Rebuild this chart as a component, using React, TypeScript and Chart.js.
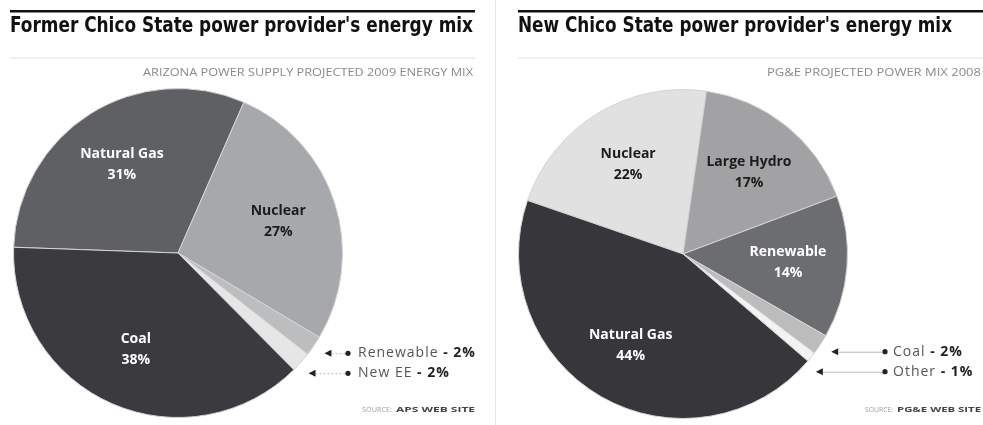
import React, { useEffect, useRef } from 'react';
import { Chart, registerables } from 'chart.js';

Chart.register(...registerables);

// ---- Data ----
const leftCategories = ['Natural Gas', 'Nuclear', 'Renewable', 'New EE', 'Coal'];
const leftValues = [31, 27, 2, 2, 38];

const rightCategories = ['Nuclear', 'Large Hydro', 'Renewable', 'Coal', 'Other', 'Natural Gas'];
const rightValues = [22, 17, 14, 2, 1, 44];

// ---- Styles ----
const leftColors = ['#5e6064', '#a6a8ab', '#bcbdbe', '#e6e6e6', '#3b3b3f'];
const leftLabelColors = ['#ffffff', '#1c1c1c', '#222', '#222', '#ffffff'];
const rightColors = ['#e1e1e1', '#a2a2a4', '#6b6d70', '#bcbcbc', '#f3f3f3', '#37373b'];
const rightLabelColors = ['#1c1c1c', '#1c1c1c', '#ffffff', '#222', '#222', '#ffffff'];

const pieLabelsPlugin = {
  id: 'pieLabels',
  afterDatasetsDraw(chart: any, _args: any, opts: any) {
    const ctx: any = chart.ctx;
    const meta = chart.getDatasetMeta(0);
    const data = chart.data.datasets[0].data as number[];
    const labels = chart.data.labels as string[];
    ctx.save();
    let lastY = -Infinity;
    meta.data.forEach((arc: any, i: number) => {
      const { startAngle, endAngle, outerRadius, x, y } = arc.getProps(
        ['startAngle', 'endAngle', 'outerRadius', 'x', 'y'],
        true
      );
      const mid = (startAngle + endAngle) / 2;
      const v = data[i];
      if (v >= opts.minInside) {
        const r = outerRadius * opts.labelRadius;
        const lx = x + Math.cos(mid) * r;
        const ly = y + Math.sin(mid) * r;
        ctx.fillStyle = opts.labelColors[i];
        ctx.font = 'bold 14px "Open Sans", sans-serif';
        ctx.textAlign = 'center';
        ctx.textBaseline = 'middle';
        ctx.fillText(labels[i], lx, ly - 10);
        ctx.fillText(v + '%', lx, ly + 11);
      } else {
        const tr = outerRadius + opts.arrowGap;
        let tx = x + Math.cos(mid) * tr;
        let ty = y + Math.sin(mid) * tr;
        if (ty < lastY + opts.minGap) {
          ty = lastY + opts.minGap;
          const dy = ty - y;
          tx = x + Math.sqrt(Math.max(tr * tr - dy * dy, 0));
        }
        lastY = ty;
        // arrow head
        ctx.fillStyle = '#222';
        ctx.beginPath();
        ctx.moveTo(tx, ty);
        ctx.lineTo(tx + 7, ty - 3.5);
        ctx.lineTo(tx + 7, ty + 3.5);
        ctx.closePath();
        ctx.fill();
        // leader line
        ctx.strokeStyle = '#b8b8b8';
        ctx.lineWidth = 1;
        ctx.setLineDash(opts.dashed ? [2, 2] : []);
        ctx.beginPath();
        ctx.moveTo(tx + 7, ty + 0.5);
        ctx.lineTo(opts.dotX, ty + 0.5);
        ctx.stroke();
        ctx.setLineDash([]);
        // dot
        ctx.beginPath();
        ctx.arc(opts.dotX, ty, 2.6, 0, Math.PI * 2);
        ctx.fill();
        // text
        ctx.textAlign = 'left';
        ctx.textBaseline = 'middle';
        ctx.letterSpacing = '1px';
        ctx.font = '14px "Open Sans", sans-serif';
        ctx.fillStyle = '#555';
        const name = labels[i] + ' ';
        ctx.fillText(name, opts.textX, ty);
        const w = ctx.measureText(name).width;
        ctx.font = 'bold 14px "Open Sans", sans-serif';
        ctx.fillStyle = '#222';
        ctx.fillText('- ' + v + '%', opts.textX + w, ty);
        ctx.letterSpacing = '0px';
      }
    });
    ctx.restore();
  },
};

function PieChart(props: {
  categories: string[];
  values: number[];
  colors: string[];
  labelColors: string[];
  rotation: number;
  width: number;
  height: number;
  padding: { left: number; right: number; top: number; bottom: number };
  dotX: number;
  textX: number;
  dashed: boolean;
}) {
  const ref = useRef<HTMLCanvasElement>(null);
  useEffect(() => {
    if (!ref.current) return;
    const chart = new Chart(ref.current, {
      type: 'pie',
      data: {
        labels: props.categories,
        datasets: [
          {
            data: props.values,
            backgroundColor: props.colors,
            borderColor: '#d4d4d4',
            borderWidth: 1,
          },
        ],
      },
      options: {
        responsive: false,
        animation: false,
        rotation: props.rotation,
        layout: { padding: props.padding },
        plugins: {
          legend: { display: false },
          tooltip: { enabled: false },
          title: { display: false },
          pieLabels: {
            labelColors: props.labelColors,
            minInside: 5,
            labelRadius: 0.64,
            arrowGap: 13,
            minGap: 20,
            dotX: props.dotX,
            textX: props.textX,
            dashed: props.dashed,
          },
        } as any,
      },
      plugins: [pieLabelsPlugin],
    });
    return () => chart.destroy();
  }, []);
  return (
    <canvas
      ref={ref}
      width={props.width}
      height={props.height}
      style={{ width: props.width, height: props.height, display: 'block' }}
    />
  );
}

export default function App() {
  const titleFont = '"Liberation Sans Narrow", "DejaVu Sans Condensed", sans-serif';
  const smallFont = '"Open Sans", sans-serif';
  return (
    <div
      style={{
        position: 'fixed',
        left: 0,
        top: 0,
        width: 983,
        height: 425,
        background: '#fff',
        overflow: 'hidden',
      }}
    >
      <div style={{ position: 'absolute', left: 0, top: 0 }}>
        <PieChart
          categories={leftCategories}
          values={leftValues}
          colors={leftColors}
          labelColors={leftLabelColors}
          rotation={-88}
          width={490}
          height={425}
          padding={{ left: 13, right: 147, top: 88, bottom: 7 }}
          dotX={348}
          textX={358}
          dashed={true}
        />
      </div>
      <div style={{ position: 'absolute', left: 490, top: 0 }}>
        <PieChart
          categories={rightCategories}
          values={rightValues}
          colors={rightColors}
          labelColors={rightLabelColors}
          rotation={-71}
          width={493}
          height={425}
          padding={{ left: 28, right: 135, top: 89, bottom: 6 }}
          dotX={395}
          textX={403}
          dashed={false}
        />
      </div>
      <svg
        width={983}
        height={425}
        style={{ position: 'absolute', left: 0, top: 0, pointerEvents: 'none' }}
      >
        {/* top rules */}
        <rect x={10} y={10} width={465} height={2.5} fill="#111" />
        <rect x={518} y={10} width={465} height={2.5} fill="#111" />
        {/* thin grey rules */}
        <rect x={10} y={57.5} width={465} height={1} fill="#e2e2e2" />
        <rect x={518} y={57.5} width={465} height={1} fill="#e2e2e2" />
        {/* vertical divider */}
        <rect x={495} y={0} width={1} height={425} fill="#e6e6e6" />
        {/* titles */}
        <text
          x={10}
          y={32}
          fontFamily={titleFont}
          fontWeight="bold"
          fontSize={22}
          fill="#111"
          textLength={463}
          lengthAdjust="spacingAndGlyphs"
        >
          Former Chico State power provider's energy mix
        </text>
        <text
          x={518}
          y={32}
          fontFamily={titleFont}
          fontWeight="bold"
          fontSize={22}
          fill="#111"
          textLength={434}
          lengthAdjust="spacingAndGlyphs"
        >
          New Chico State power provider's energy mix
        </text>
        {/* subtitles */}
        <text
          x={143}
          y={76}
          fontFamily={smallFont}
          fontSize={10}
          fill="#8a8a8a"
          textLength={330}
          lengthAdjust="spacingAndGlyphs"
        >
          ARIZONA POWER SUPPLY PROJECTED 2009 ENERGY MIX
        </text>
        <text
          x={767}
          y={76}
          fontFamily={smallFont}
          fontSize={10}
          fill="#8a8a8a"
          textLength={214}
          lengthAdjust="spacingAndGlyphs"
        >
          PG&amp;E PROJECTED POWER MIX 2008
        </text>
        {/* sources */}
        <text x={362} y={412} fontFamily={smallFont} fontSize={7.5} fill="#a0a0a0" textLength={30} lengthAdjust="spacingAndGlyphs">
          SOURCE:
        </text>
        <text x={396} y={412} fontFamily={smallFont} fontSize={7.5} fontWeight="bold" fill="#444" textLength={79} lengthAdjust="spacingAndGlyphs">
          APS WEB SITE
        </text>
        <text x={865} y={412} fontFamily={smallFont} fontSize={7.5} fill="#a0a0a0" textLength={28} lengthAdjust="spacingAndGlyphs">
          SOURCE:
        </text>
        <text x={897} y={412} fontFamily={smallFont} fontSize={7.5} fontWeight="bold" fill="#444" textLength={84} lengthAdjust="spacingAndGlyphs">
          PG&amp;E WEB SITE
        </text>
      </svg>
    </div>
  );
}
